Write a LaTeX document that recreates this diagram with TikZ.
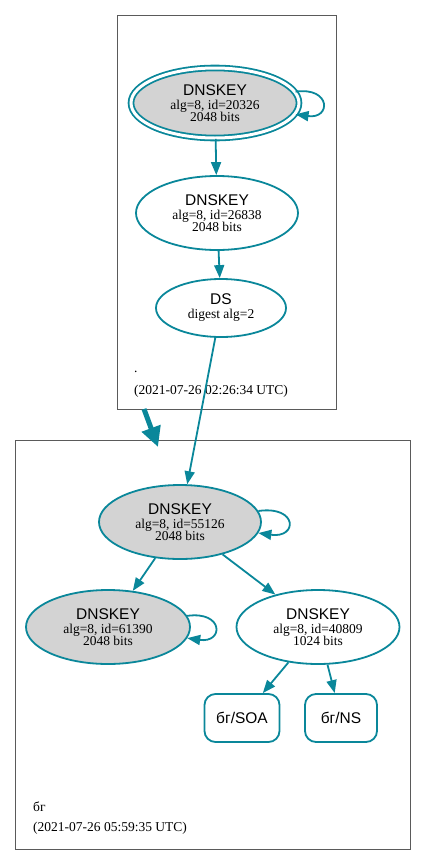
\documentclass[tikz,border=0pt]{standalone}
\usepackage{fontspec}
\setmainfont{Liberation Serif}
\setsansfont{Liberation Sans}
\usepackage{tikz}
\usetikzlibrary{shapes,arrows.meta}
\definecolor{secure}{HTML}{0A879A}
\definecolor{keyfill}{HTML}{D3D3D3}
\definecolor{zonegray}{HTML}{5A5A5A}
\tikzstyle{key} = [draw=secure, ellipse, line width=1.8pt, inner sep=0pt,
  minimum width=162pt, minimum height=74pt, align=center,
  font=\fontsize{13.5}{12.5}\selectfont]
\tikzstyle{sep} = [key, fill=keyfill]
\tikzstyle{rrset} = [draw=secure, rectangle, rounded corners=11pt,
  line width=1.8pt, minimum height=48pt, font=\sffamily\fontsize{15.5}{17}\selectfont]
\tikzstyle{dep} = [color=secure, line width=1.8pt, -{Triangle[length=13pt,width=10pt]}]
\tikzstyle{zone} = [draw=zonegray, line width=1pt]
\tikzstyle{stamp} = [anchor=base west, inner sep=0pt, font=\fontsize{13.5}{15}\selectfont]
\newcommand{\keyname}[1]{{\sffamily\fontsize{15.5}{17}\selectfont #1}\\[1.5pt]}

\begin{document}
\begin{tikzpicture}[x=1pt,y=1pt]
\useasboundingbox (0,0) rectangle (427,-865);

% zones
\draw[zone] (117,-15) rectangle (336,-409);
\draw[zone] (15,-440) rectangle (410,-849);
\node[stamp, name = rootdot] at (134,-372) {.};
\node[stamp, name = rootdate] at (134,-394) {(2021-07-26 02:26:34 UTC)};
\node[stamp, name = bgname] at (33,-811) {бг};
\node[stamp, name = bgdate] at (33,-831) {(2021-07-26 05:59:35 UTC)};

% root zone
\node[sep, name = k20326, minimum width=168pt, minimum height=70pt,
double=white, double distance=3pt] at (215,-103)
{\keyname{DNSKEY}alg=8, id=20326\\2048 bits};
\node[key, name = k26838] at (217,-213)
{\keyname{DNSKEY}alg=8, id=26838\\2048 bits};
\node[key, name = ds, minimum width=130pt, minimum height=58pt] at (221,-308)
{\keyname{DS}digest alg=2};

% bg zone
\node[sep, name = k55126] at (180,-522)
{\keyname{DNSKEY}alg=8, id=55126\\2048 bits};
\node[sep, name = k61390, minimum width=164pt] at (108,-627)
{\keyname{DNSKEY}alg=8, id=61390\\2048 bits};
\node[key, name = k40809, minimum width=163pt] at (318,-627)
{\keyname{DNSKEY}alg=8, id=40809\\1024 bits};
\node[rrset, name = soa, minimum width=75pt] at (242,-718) {бг/SOA};
\node[rrset, name = ns, minimum width=72pt] at (341,-718) {бг/NS};

\coordinate (deltail) at (144,-409);
\coordinate (delhead) at (158,-447);

\path[dep]
(k20326) edge [out=8, in=-8, distance=36pt] (k20326)
(k20326) edge [] (k26838)
(k26838) edge [] (ds)
(ds) edge [] (k55126)
(k55126) edge [out=8, in=-8, distance=40pt] (k55126)
(k55126) edge [] (k61390)
(k55126) edge [] (k40809)
(k61390) edge [out=8, in=-8, distance=37pt] (k61390)
(k40809) edge [] (soa)
(k40809) edge [] (ns);

\draw[color=secure, line width=5pt, -{Triangle[length=20pt,width=19pt]}]
(deltail) -- (delhead);

\end{tikzpicture}
\end{document}
